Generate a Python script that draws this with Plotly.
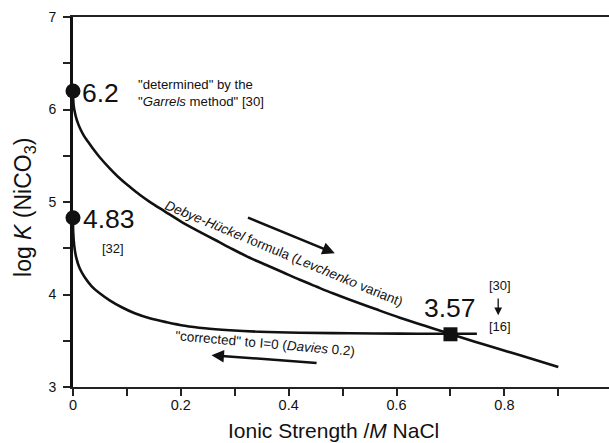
import plotly.graph_objects as go

# ---- data ----
upper_x = [0, 0.0004, 0.0013, 0.0032, 0.0059, 0.0096, 0.0143, 0.0198, 0.0273, 0.0365,
           0.0495, 0.0681, 0.0866, 0.1052, 0.1237, 0.1423, 0.1701, 0.2041, 0.235,
           0.2666, 0.2963, 0.3278, 0.3594, 0.3891, 0.4206, 0.4521, 0.4818, 0.5134,
           0.5597, 0.6061, 0.6525, 0.6989, 0.7453, 0.7917, 0.8473, 0.9]
upper_y = [6.2, 6.110, 6.040, 5.975, 5.910, 5.845, 5.781, 5.721, 5.656, 5.581,
           5.484, 5.364, 5.256, 5.164, 5.078, 5.002, 4.899, 4.775, 4.678,
           4.581, 4.489, 4.397, 4.316, 4.240, 4.159, 4.083, 4.013, 3.943,
           3.845, 3.749, 3.662, 3.575, 3.489, 3.408, 3.310, 3.216]

lower_x = [0, 0.0004, 0.0022, 0.0059, 0.0124, 0.0217, 0.0347, 0.0495, 0.068, 0.0904,
           0.1145, 0.1423, 0.1738, 0.2072, 0.2443, 0.2907, 0.3463, 0.4206, 0.5134,
           0.6061, 0.6989, 0.749]
lower_y = [4.83, 4.672, 4.532, 4.402, 4.283, 4.186, 4.089, 4.013, 3.937, 3.862,
           3.797, 3.743, 3.700, 3.662, 3.635, 3.614, 3.597, 3.586, 3.581,
           3.577, 3.575, 3.575]

circle_x = [0, 0]
circle_y = [6.2, 4.83]
square_x = [0.7]
square_y = [3.57]

x_tickvals = [0, 0.1, 0.2, 0.3, 0.4, 0.5, 0.6, 0.7, 0.8, 0.9]
x_ticktext = ["0", "", "0.2", "", "0.4", "", "0.6", "", "0.8", ""]
y_tickvals = [3, 3.5, 4, 4.5, 5, 5.5, 6, 6.5, 7]
y_ticktext = ["3", "", "4", "", "5", "", "6", "", "7"]

FONT = "Liberation Sans, Arial, Helvetica, sans-serif"
INK = "#111111"

fig = go.Figure()
for xs, ys in ((upper_x, upper_y), (lower_x, lower_y)):
    fig.add_trace(go.Scatter(x=xs, y=ys, mode="lines",
                             line=dict(color=INK, width=2.6, shape="spline", smoothing=1.0),
                             showlegend=False, hoverinfo="skip"))
fig.add_trace(go.Scatter(x=circle_x, y=circle_y, mode="markers",
                         marker=dict(symbol="circle", size=15, color=INK),
                         showlegend=False, cliponaxis=False))
fig.add_trace(go.Scatter(x=square_x, y=square_y, mode="markers",
                         marker=dict(symbol="square", size=14, color=INK),
                         showlegend=False))

ann = []
def txt(x, y, text, size, xanchor="left", angle=0, align="left"):
    ann.append(dict(x=x, y=y, xref="x", yref="y", text=text, showarrow=False,
                    xanchor=xanchor, yanchor="middle", textangle=angle, align=align,
                    font=dict(family=FONT, size=size, color=INK)))

txt(0.0124, circle_y[0] - 0.02, f"{circle_y[0]}", 26.5)
txt(0.0143, circle_y[1] - 0.017, f"{circle_y[1]}", 26.5)
txt(0.6464, 3.858, f"{square_y[0]}", 26.5)
txt(0.0508, 4.496, "[32]", 13)
txt(0.1176, 6.177, "\"determined\" by the<br>\"<i>Garrels</i> method\" [30]", 13.2)
txt(0.767, 4.099, "[30]", 13)
txt(0.767, 3.649, "[16]", 13)
txt(0.391, 4.445, "<i>Debye-Hückel</i> formula (<i>Levchenko</i> variant)", 13.5,
    xanchor="center", angle=22.5)
txt(0.356, 3.475, "\"corrected\" to I=0 (<i>Davies</i> 0.2)", 13.5,
    xanchor="center", angle=5)

def arrow(x, y, ax, ay, width=2.5, size=1.0):
    ann.append(dict(x=x, y=y, ax=ax, ay=ay, xref="x", yref="y", axref="x", ayref="y",
                    text="", showarrow=True, arrowhead=2, arrowsize=size,
                    arrowwidth=width, arrowcolor=INK))

arrow(0.4855, 4.445, 0.3217, 4.838)
arrow(0.2568, 3.343, 0.4545, 3.259)
arrow(0.7885, 3.775, 0.7885, 3.973, width=1.3, size=1.2)

# axis titles
ann.append(dict(x=(25 - 73.3) / (609 - 73.3), y=(386.7 - 207) / 370,
                xref="paper", yref="paper", showarrow=False,
                text="log <i>K</i> (NiCO<sub>3</sub>)", textangle=-90,
                xanchor="center", yanchor="middle",
                font=dict(family=FONT, size=23, color=INK)))
ann.append(dict(x=(333.6 - 73.3) / (609 - 73.3), y=(386.7 - 430.5) / 370,
                xref="paper", yref="paper", showarrow=False,
                text="Ionic Strength /<i>M</i> NaCl",
                xanchor="center", yanchor="middle",
                font=dict(family=FONT, size=21, color=INK)))

fig.update_layout(
    width=609, height=443,
    margin=dict(l=73.3, r=0, t=16.7, b=56.3),
    paper_bgcolor="white", plot_bgcolor="white",
    showlegend=False,
    annotations=ann,
    font=dict(family=FONT, color=INK),
)
fig.update_xaxes(range=[0, 0.994], tickvals=x_tickvals, ticktext=x_ticktext,
                 showgrid=False, zeroline=False, showline=True, linewidth=2,
                 linecolor="#222", mirror=True, ticks="outside", ticklen=7,
                 tickwidth=1.5, tickcolor="#222", ticklabelstandoff=-3,
                 tickfont=dict(family=FONT, size=14.5, color=INK))
fig.update_yaxes(range=[3, 7], tickvals=y_tickvals, ticktext=y_ticktext,
                 showgrid=False, zeroline=False, showline=True, linewidth=2.6,
                 linecolor="#111", ticks="outside", ticklen=7,
                 tickwidth=1.5, tickcolor="#222", ticklabelstandoff=4,
                 tickfont=dict(family=FONT, size=14, color=INK))

fig.write_html("out.html")
